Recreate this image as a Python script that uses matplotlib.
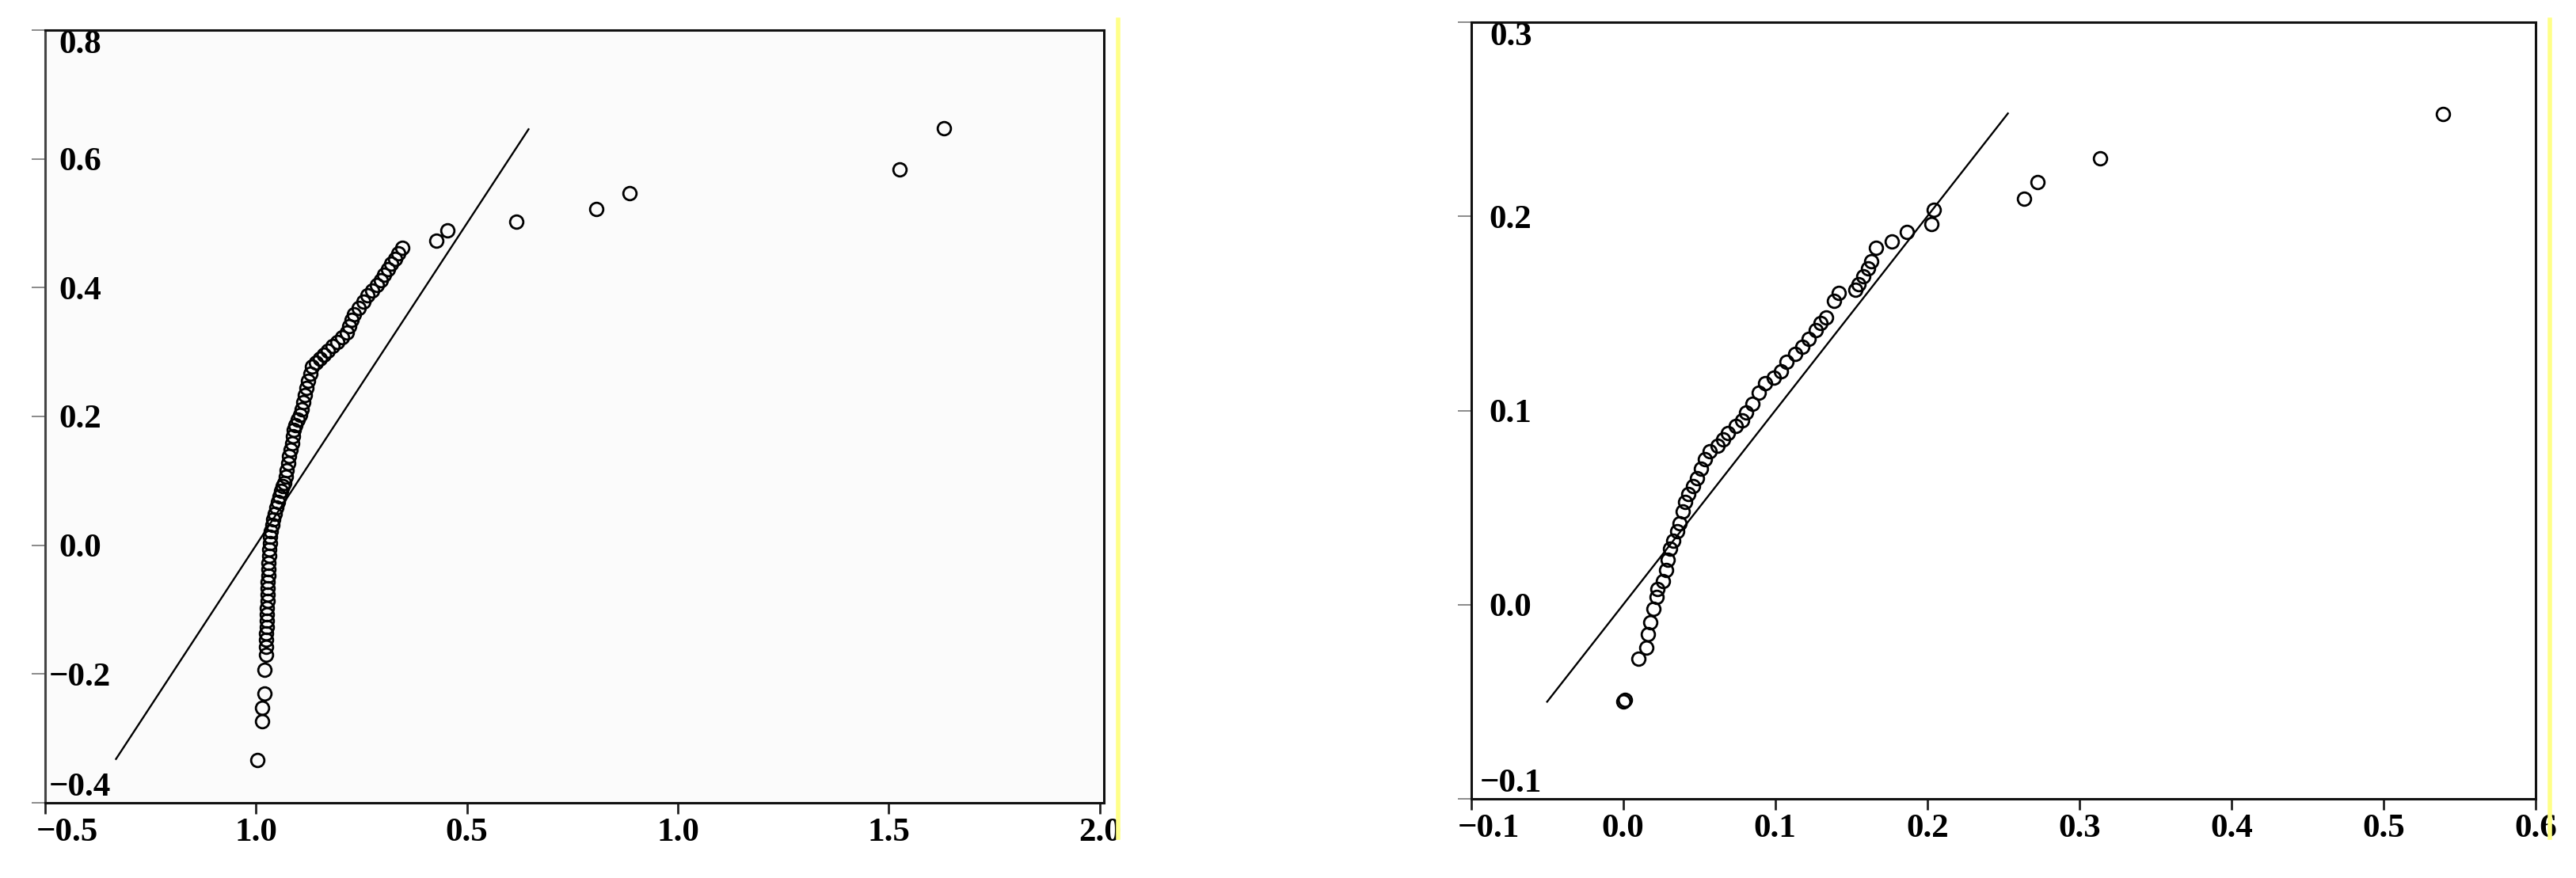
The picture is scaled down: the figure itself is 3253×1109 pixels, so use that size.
import numpy as np
import matplotlib
matplotlib.use('Agg')
from matplotlib import pyplot as plt
from matplotlib.lines import Line2D
from matplotlib.transforms import ScaledTranslation

plt.rcParams['font.family'] = ['Liberation Serif', 'DejaVu Serif']
plt.rcParams['font.weight'] = 'bold'

# left panel: points
x_left = [0.004, 0.014, 0.015, 0.020, 0.020, 0.023, 0.023, 0.023,
          0.024, 0.025, 0.025, 0.026, 0.026, 0.027, 0.027, 0.028, 0.028,
          0.029, 0.030, 0.030, 0.031, 0.032, 0.033, 0.034, 0.035,
          0.038, 0.041, 0.044, 0.048, 0.052, 0.056, 0.060, 0.064, 0.067,
          0.070, 0.073, 0.076, 0.079, 0.082, 0.085, 0.087, 0.089,
          0.094, 0.099, 0.104, 0.108,
          0.112, 0.116, 0.120, 0.124, 0.129, 0.133,
          0.142, 0.152, 0.161, 0.171,
          0.182, 0.193, 0.204, 0.215,
          0.221, 0.227, 0.233,
          0.244, 0.254, 0.265,
          0.275, 0.286, 0.296,
          0.304, 0.313, 0.321,
          0.330, 0.338, 0.346,
          0.428, 0.454, 0.617, 0.806, 0.886, 1.526, 1.630]
y_left = [-0.333, -0.273, -0.253, -0.230, -0.194, -0.170, -0.158, -0.147,
          -0.137, -0.127, -0.117, -0.107, -0.097, -0.087, -0.077, -0.067, -0.057,
          -0.047, -0.037, -0.027, -0.017, -0.007, 0.003, 0.013, 0.022,
          0.031, 0.040, 0.049, 0.058, 0.067, 0.076, 0.085, 0.092, 0.097,
          0.107, 0.117, 0.128, 0.138, 0.148, 0.158, 0.169, 0.179,
          0.187, 0.195, 0.203, 0.211,
          0.222, 0.233, 0.244, 0.255, 0.266, 0.277,
          0.284, 0.290, 0.296, 0.302,
          0.309, 0.316, 0.323, 0.330,
          0.340, 0.350, 0.359,
          0.369, 0.378, 0.388,
          0.396, 0.404, 0.412,
          0.420, 0.429, 0.437,
          0.445, 0.453, 0.462,
          0.473, 0.489, 0.503, 0.522, 0.547, 0.583, 0.647]
ref_left = [-0.332, 0.646]
xticks_left = [-0.5, 0.0, 0.5, 1.0, 1.5, 2.0]
xlabels_left = ['\u22120.5', '1.0', '0.5', '1.0', '1.5', '2.0']
yticks_left = [-0.4, -0.2, 0.0, 0.2, 0.4, 0.6, 0.8]
ylabels_left = ['\u22120.4', '\u22120.2', '0.0', '0.2', '0.4', '0.6', '0.8']

# right panel
x_right = [0.000, 0.001, 0.010, 0.015, 0.0165, 0.018, 0.020, 0.022, 0.0225,
           0.026, 0.028, 0.0295, 0.031, 0.033, 0.0355, 0.037, 0.039, 0.041,
           0.043, 0.046, 0.0485, 0.051, 0.054, 0.057, 0.062, 0.066, 0.069,
           0.074, 0.078, 0.081, 0.085, 0.089, 0.0935, 0.099, 0.104, 0.1075,
           0.113, 0.118, 0.122, 0.1265, 0.130, 0.1335, 0.1387, 0.142,
           0.1525, 0.155, 0.158, 0.161, 0.163, 0.1664, 0.1768, 0.1863,
           0.2028, 0.2045, 0.2635, 0.2725, 0.3135, 0.539]
y_right = [-0.050, -0.049, -0.028, -0.022, -0.015, -0.009, -0.002, 0.004, 0.008,
           0.012, 0.018, 0.023, 0.029, 0.033, 0.038, 0.042, 0.048, 0.053,
           0.057, 0.061, 0.065, 0.070, 0.075, 0.079, 0.082, 0.085, 0.0885,
           0.092, 0.095, 0.099, 0.1035, 0.109, 0.114, 0.117, 0.120, 0.125,
           0.129, 0.133, 0.137, 0.1415, 0.145, 0.148, 0.1565, 0.1605,
           0.162, 0.165, 0.169, 0.173, 0.177, 0.1837, 0.187, 0.192,
           0.196, 0.2034, 0.209, 0.2176, 0.230, 0.2527]
ref_right = [-0.050, 0.253]
xticks_right = [-0.1, 0.0, 0.1, 0.2, 0.3, 0.4, 0.5, 0.6]
xlabels_right = ['\u22120.1', '0.0', '0.1', '0.2', '0.3', '0.4', '0.5', '0.6']
yticks_right = [-0.1, 0.0, 0.1, 0.2, 0.3]
ylabels_right = ['\u22120.1', '0.0', '0.1', '0.2', '0.3']

fig = plt.figure(figsize=(32.53, 11.09), dpi=100)
fig.patch.set_facecolor('white')

ax1 = fig.add_axes([0.01752, 0.08566, 0.41101, 0.88008])
ax2 = fig.add_axes([0.57107, 0.09017, 0.41325, 0.88458])


def draw(ax, x, y, ref, xt, xl, yt, yl, xlim, ylim, ylab_px, xlab_px, leftcol):
    ax.plot(ref, ref, color='black', lw=1.7, zorder=2)
    ax.plot(x, y, 'o', mfc='none', mec='black', ms=12, mew=2.0, zorder=3)
    ax.set_xlim(xlim)
    ax.set_ylim(ylim)
    ax.set_xticks(xt)
    ax.set_xticklabels(xl)
    ax.set_yticks(yt)
    ax.set_yticklabels(yl)
    for s in ax.spines.values():
        s.set_linewidth(2.2)
        s.set_color('#111111')
    ax.spines['left'].set_color(leftcol)
    ax.tick_params(axis='x', direction='out', length=10, width=2, pad=4,
                   labelsize=31, color='#222222')
    ax.tick_params(axis='y', direction='out', length=12, width=1.2, color='#777777',
                   pad=-(12 + ylab_px * 0.72), labelsize=31)
    labs = ax.get_yticklabels()
    for lab in labs:
        lab.set_ha('center')
    labs[0].set_va('bottom')
    labs[-1].set_va('top')
    xlabs = ax.get_xticklabels()
    xlabs[0].set_transform(xlabs[0].get_transform()
                           + ScaledTranslation(xlab_px / 100, 0, fig.dpi_scale_trans))


draw(ax1, x_left, y_left, ref_left, xticks_left, xlabels_left, yticks_left, ylabels_left,
     (-0.5, 2.01), (-0.4, 0.8), 44, 28, '#444444')
ax1.set_facecolor('#fbfbfb')
draw(ax2, x_right, y_right, ref_right, xticks_right, xlabels_right, yticks_right, ylabels_right,
     (-0.1, 0.6), (-0.1, 0.3), 50, 22, '#111111')

# thin yellow strips at the right of each panel
for xf in [1412 / 3253, 3220 / 3253]:
    fig.add_artist(Line2D([xf, xf], [1 - 25 / 1109, 1 - 1058 / 1109],
                          transform=fig.transFigure, color='#ffff88', lw=4))

fig.savefig('out.png', dpi=100)
